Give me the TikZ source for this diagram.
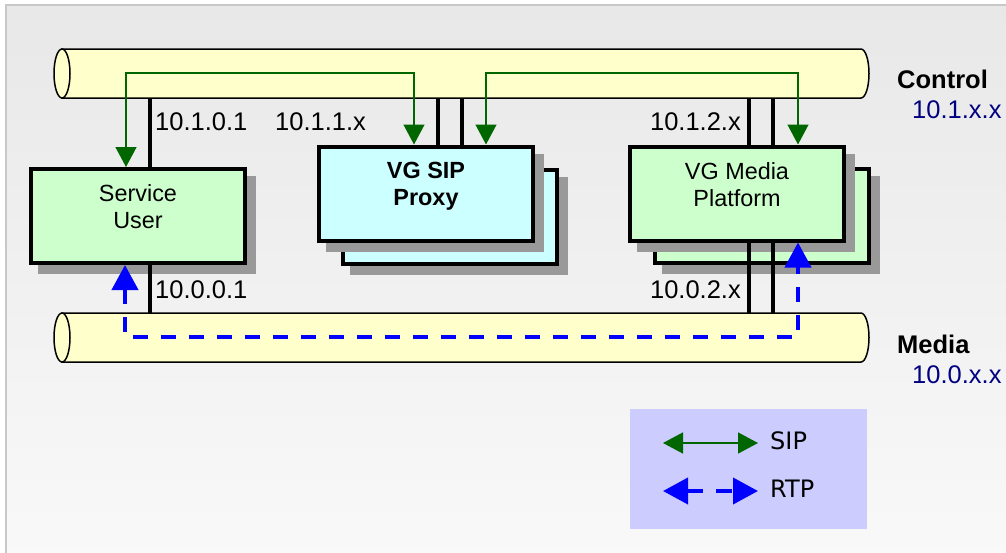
\documentclass[tikz,border=0pt]{standalone}
\usepackage{fontspec}
\setmainfont{Liberation Sans}
\newfontfamily\legendfont{DejaVu Sans}
\usetikzlibrary{arrows.meta,calc,shadows}
\definecolor{pipefill}{HTML}{FFFFCC}
\definecolor{sugreen}{HTML}{CCFFCC}
\definecolor{proxycyan}{HTML}{CCFFFF}
\definecolor{shadowgray}{HTML}{999999}
\definecolor{sipgreen}{HTML}{006600}
\definecolor{rtpblue}{HTML}{0000FF}
\definecolor{netblue}{HTML}{000080}
\definecolor{legendfill}{HTML}{CCCCFF}
\definecolor{bgtop}{HTML}{E8E8E8}
\definecolor{bgbottom}{HTML}{F9F9F9}
\definecolor{framegray}{HTML}{C8C8C8}
\begin{document}
\begin{tikzpicture}[x=1pt,y=-1pt,
  box/.style={draw=black, line width=4pt, minimum width=214pt, minimum height=94pt, inner sep=0pt,
    general shadow={fill=shadowgray, draw=shadowgray, shadow xshift=9pt, shadow yshift=-9pt}},
  boxtext/.style={anchor=north, inner sep=0pt, align=center, font=\fontsize{23.4}{27}\selectfont},
  addr/.style={inner sep=0pt, font=\fontsize{25.5}{28}\selectfont},
  netname/.style={inner sep=0pt, anchor=base west, font=\fontsize{25.5}{28}\selectfont\bfseries},
  netaddr/.style={inner sep=0pt, anchor=base west, text=netblue, font=\fontsize{25.5}{28}\selectfont},
  pipe/.style={draw=black, line width=1.5pt, fill=pipefill},
  link/.style={draw=black, line width=4.5pt},
  sip/.style={draw=sipgreen, line width=1.5pt, >={Triangle[width=21pt,length=20pt]}, <->},
  rtp/.style={draw=rtpblue, line width=4pt, dash pattern=on 15pt off 13pt, >={Triangle[width=26pt,length=25pt]}, <->},
  legtext/.style={inner sep=0pt, anchor=base west, font=\legendfont\fontsize{24}{28}\selectfont}
]
\useasboundingbox (0,0) rectangle (1006,552);
\begin{scope}
  \clip (0,0) rectangle (1006,552);
  \shade[top color=bgtop, bottom color=bgbottom, draw=framegray, line width=2pt] (6,5) rectangle (1014,562);
\end{scope}

% pipes
\draw[pipe] (62,49) -- (861,49) arc[start angle=90, end angle=-90, x radius=8pt, y radius=24.5pt] -- (62,98) -- cycle;
\draw[pipe] (62,73.5) ellipse[x radius=8pt, y radius=24.5pt];
\draw[pipe] (62,313) -- (861,313) arc[start angle=90, end angle=-90, x radius=8pt, y radius=24.5pt] -- (62,362) -- cycle;
\draw[pipe] (62,337.5) ellipse[x radius=8pt, y radius=24.5pt];

\coordinate (ctrlbot) at (0,98);
\coordinate (medtop) at (0,313);
\coordinate (sipy) at (0,73);
\coordinate (rtpy) at (0,337);

% boxes
\node[box, fill=proxycyan] (proxyb) at (450,217) {};
\node[box, fill=proxycyan] (proxy) at (426,193.5) {};
\node[box, fill=sugreen] (mpb) at (762,216) {};
\node[box, fill=sugreen] (mp) at (737,193.5) {};
\node[box, fill=sugreen] (su) at (138,216) {};

\node[boxtext] (sut) at (138,184) {Service\\User};
\node[boxtext, font=\fontsize{23.4}{27}\selectfont\bfseries] (proxyt) at (426,162) {VG SIP\\Proxy};
\node[boxtext] (mpt) at (737,162) {VG Media\\Platform};

% network links
\draw[link] ([xshift=12pt]su.north) -- ([xshift=12pt]su.north |- ctrlbot);
\draw[link] ([xshift=12pt]su.south) -- ([xshift=12pt]su.south |- medtop);
\foreach \dx in {12,36} {
  \draw[link] ([xshift=\dx pt]proxy.north) -- ([xshift=\dx pt]proxy.north |- ctrlbot);
  \draw[link] ([xshift=\dx pt]mp.north) -- ([xshift=\dx pt]mp.north |- ctrlbot);
  \draw[link] ([xshift=\dx pt]mp.south) -- ([xshift=\dx pt]mp.south |- medtop);
}

% SIP flows
\draw[sip] ([xshift=-12pt]su.north) -- ([xshift=-12pt]su.north |- sipy) -| ([xshift=-12pt]proxy.north);
\draw[sip] ([xshift=60pt]proxy.north) -- ([xshift=60pt]proxy.north |- sipy) -| ([xshift=61pt]mp.north);

% RTP flow
\draw[rtp] ([xshift=-13pt]su.south) -- ([xshift=-13pt]su.south |- rtpy) -| ([xshift=61pt]mp.south);

% address labels
\node[addr, anchor=base west] (a1) at (155,130) {10.1.0.1};
\node[addr, anchor=base west] (a2) at (275,130) {10.1.1.x};
\node[addr, anchor=base east] (a3) at (741,130) {10.1.2.x};
\node[addr, anchor=base west] (a4) at (155,298) {10.0.0.1};
\node[addr, anchor=base east] (a5) at (741,298) {10.0.2.x};

\node[netname] (ctl) at (897,88) {Control};
\node[netaddr] (ctla) at (912,118) {10.1.x.x};
\node[netname] (med) at (897,353) {Media};
\node[netaddr] (meda) at (912,383) {10.0.x.x};

% legend
\node[fill=legendfill, minimum width=237pt, minimum height=120pt, inner sep=0pt, anchor=north west] (legend) at (630,409) {};
\coordinate (sipL) at (663,443);
\coordinate (sipR) at (758,443);
\coordinate (rtpL) at (663,491);
\coordinate (rtpR) at (758,491);
\draw[sip] (sipL) -- (sipR);
\draw[rtp, dash pattern=on 16pt off 13pt] (rtpL) -- (rtpR);
\node[legtext] (siplab) at (770,449) {SIP};
\node[legtext] (rtplab) at (770,497) {RTP};
\end{tikzpicture}
\end{document}
